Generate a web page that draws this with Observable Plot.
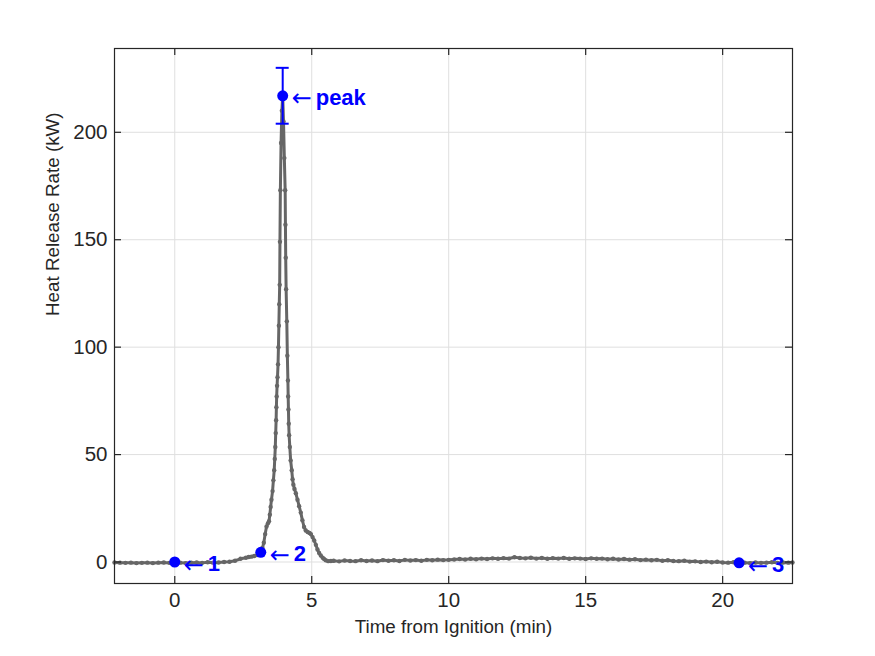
<!DOCTYPE html>
<html>
<head>
<meta charset="utf-8">
<script src="https://cdn.jsdelivr.net/npm/d3@7"></script>
<script src="https://cdn.jsdelivr.net/npm/@observablehq/plot@0.6"></script>
<style>
  html, body { margin: 0; padding: 0; background: #ffffff; }
  #chart { width: 875px; height: 656px; }
</style>
</head>
<body>
<div id="chart"></div>
<script>
// ---- data ----
const timeMin = [
  -2.2,-2.0,-1.8,-1.6,-1.4,-1.2,-1.0,-0.8,-0.6,-0.4,-0.2,0.0,0.2,0.4,0.6,0.8,1.0,1.2,1.4,1.6,1.8,2.0,2.2,2.4,2.6,2.7,2.8,2.9,3.0,3.1,3.14,
  3.2,3.25,3.3,3.35,3.4,3.44,3.47,3.5,3.53,3.57,3.6,3.63,3.65,3.67,3.685,3.7,3.71,3.72,3.735,3.75,3.77,3.785,3.8,3.815,3.83,3.84,3.855,3.88,3.91,3.94,
  3.97,4.0,4.03,4.04,4.05,4.065,4.09,4.11,4.13,4.14,4.15,4.16,4.175,4.2,4.23,4.27,4.3,4.33,4.37,4.42,4.48,4.54,4.6,4.66,4.72,4.78,4.85,4.92,4.97,5.03,5.09,5.15,5.21,5.27,5.33,5.4,5.45,5.51,5.6,5.7,
  5.8,6.0,6.2,6.4,6.6,6.8,7.0,7.2,7.4,7.6,
  7.8,8.0,8.2,8.4,8.6,8.8,9.0,9.2,9.4,9.6,
  9.8,10.0,10.2,10.4,10.6,10.8,11.0,11.2,11.4,11.6,
  11.8,12.0,12.2,12.4,12.6,12.8,13.0,13.2,13.4,13.6,
  13.8,14.0,14.2,14.4,14.6,14.8,15.0,15.2,15.4,15.6,
  15.8,16.0,16.2,16.4,16.6,16.8,17.0,17.2,17.4,17.6,
  17.8,18.0,18.2,18.4,18.6,18.8,19.0,19.2,19.4,19.6,
  19.8,20.0,20.2,20.4,20.6,20.8,21.0,21.2,21.4,21.6,
  21.8,22.0,22.2,22.4,22.55
];
const hrrKW = [
  -0.2,-0.3,-0.4,-0.3,-0.5,-0.4,-0.3,-0.5,-0.3,-0.2,-0.4,-0.2,-0.3,-0.5,-0.3,-0.2,-0.4,-0.1,-0.3,-0.2,0.0,0.1,0.6,1.5,2.0,2.3,2.5,2.8,3.2,3.8,4.5,
  6.5,9,13,16.5,18,19,22,25.6,29,33,38,42.7,48,53.5,60,66,72,77,82,86,92,100,110,120,129,149,173,195,210,217,
  205,188,173,157,141.6,127,112,96,84.5,77,71,64.4,59,53.5,47.3,42.7,38.5,36,34,32,29,26,23,19.4,16.3,14.7,14,13.5,13,11.6,10,8,5.8,4.2,3,2,1.4,0.8,0.4,0.5,
  0.6,0.3,0.7,0.5,0.4,0.8,0.5,0.7,0.4,0.9,
  0.6,0.8,0.5,1.0,0.7,0.9,0.6,1.0,0.8,1.1,
  0.9,1.0,1.2,1.4,1.2,1.5,1.3,1.6,1.4,1.7,
  1.5,1.8,1.6,2.2,1.9,1.7,2.0,1.6,1.9,1.5,
  1.8,1.6,1.9,1.5,1.7,1.6,1.4,1.7,1.5,1.6,
  1.3,1.5,1.2,1.4,1.1,1.3,0.9,1.1,0.8,1.0,
  0.6,0.8,0.5,0.4,0.6,0.2,0.3,0.0,0.2,-0.1,
  0.1,-0.2,-0.3,-0.1,-0.4,-0.3,-0.5,-0.2,-0.4,-0.3,
  -0.1,-0.4,-0.2,-0.3,-0.2
];

const markNames = ["1", "2", "3", "peak"];
const markTime  = [0, 3.14, 20.6, 3.94];
const markHRR   = [0, 4.5, -0.4, 217];

const peakTime = 3.94;
const peakHRR = 217;
const peakErr = 13;

const xTicks = [0, 5, 10, 15, 20];
const yTicks = [0, 50, 100, 150, 200];
const xDomain = [-2.2, 22.55];
const yDomain = [-10, 239];

const xLabel = "Time from Ignition (min)";
const yLabel = "Heat Release Rate (kW)";

// ---- build tables ----
const series = timeMin.map((t, i) => ({t, v: hrrKW[i]}));
const marks = markNames.map((n, i) => ({name: n, t: markTime[i], v: markHRR[i]}));
const errEnds = [peakHRR - peakErr, peakHRR + peakErr];

const axisColor = "#262626";
const gridColor = "#dfdfdf";
const lineColor = "#666666";
const blue = "#0000ff";
const font = "'Liberation Sans', Arial, Helvetica, sans-serif";

const chart = Plot.plot({
  width: 875,
  height: 656,
  marginLeft: 114,
  marginRight: 83,
  marginTop: 48,
  marginBottom: 73,
  style: {fontFamily: font, background: "#ffffff", overflow: "visible"},
  x: {domain: xDomain, ticks: xTicks},
  y: {domain: yDomain, ticks: yTicks},
  marks: [
    Plot.gridX(xTicks, {stroke: gridColor, strokeOpacity: 1, strokeWidth: 1}),
    Plot.gridY(yTicks, {stroke: gridColor, strokeOpacity: 1, strokeWidth: 1}),
    // data
    Plot.line(series, {x: "t", y: "v", stroke: lineColor, strokeWidth: 3}),
    Plot.dot(series, {x: "t", y: "v", r: 2.2, fill: lineColor, stroke: "none"}),
    // frame
    Plot.frame({stroke: axisColor, strokeWidth: 1.2}),
    // inward ticks
    Plot.ruleX(xTicks, {x: d => d, y1: yDomain[0], y2: yDomain[0], insetTop: -7, stroke: axisColor, strokeWidth: 1.2}),
    Plot.ruleX(xTicks, {x: d => d, y1: yDomain[1], y2: yDomain[1], insetBottom: -7, stroke: axisColor, strokeWidth: 1.2}),
    Plot.ruleY(yTicks, {y: d => d, x1: xDomain[0], x2: xDomain[0], insetRight: -7, stroke: axisColor, strokeWidth: 1.2}),
    Plot.ruleY(yTicks, {y: d => d, x1: xDomain[1], x2: xDomain[1], insetLeft: -7, stroke: axisColor, strokeWidth: 1.2}),
    // tick labels
    Plot.axisX(xTicks, {anchor: "bottom", tickSize: 0, tickPadding: 9, fontSize: 20.5, color: axisColor, label: null}),
    Plot.axisY(yTicks, {anchor: "left", tickSize: 0, tickPadding: 7, fontSize: 20.5, color: axisColor, label: null}),
    // axis titles
    Plot.text([xLabel], {text: d => d, frameAnchor: "bottom", dy: 49, fontSize: 18.8, fill: axisColor}),
    Plot.text([yLabel], {text: d => d, frameAnchor: "left", dx: -62, rotate: -90, fontSize: 18.8, fill: axisColor}),
    // error bar on peak
    Plot.ruleX([peakTime], {x: d => d, y1: errEnds[0], y2: errEnds[1], stroke: blue, strokeWidth: 2}),
    Plot.ruleY(errEnds, {y: d => d, x1: peakTime, x2: peakTime, insetLeft: -6.5, insetRight: -6.5, stroke: blue, strokeWidth: 2}),
    // marked points
    Plot.dot(marks, {x: "t", y: "v", r: 5.5, fill: blue, stroke: "none"}),
    Plot.text(marks, {x: "t", y: "v", text: () => "\u2190", textAnchor: "start", dx: 9, dy: 3, fontSize: 24, fontFamily: "'DejaVu Sans', sans-serif", fill: blue}),
    Plot.text(marks, {x: "t", y: "v", text: "name", textAnchor: "start", dx: 33, dy: 2, fontSize: 22, fontWeight: "bold", fill: blue})
  ]
});

document.getElementById("chart").appendChild(chart);
</script>
</body>
</html>
